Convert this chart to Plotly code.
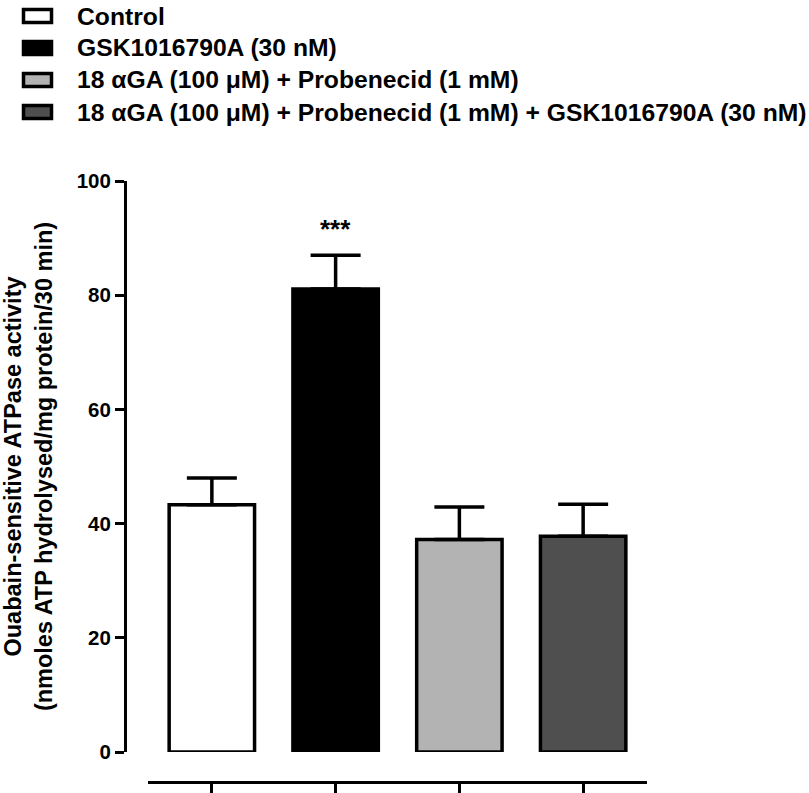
import plotly.graph_objects as go

categories = [
    "Control",
    "GSK1016790A (30 nM)",
    "18 αGA (100 μM) + Probenecid (1 mM)",
    "18 αGA (100 μM) + Probenecid (1 mM) + GSK1016790A (30 nM)",
]
means = [43.3, 81.1, 37.2, 37.8]
sem = [4.7, 5.9, 5.7, 5.6]
colors = ["#ffffff", "#000000", "#b3b3b3", "#4f4f4f"]
y_ticks = [0, 20, 40, 60, 80, 100]
significance = ["", "***", "", ""]

W, H = 809, 793
ML, MR, MT, MB = 125, 162, 181, 11
PW, PH = W - ML - MR, H - MT - MB

def px_x(p):
    return (p - ML) / PW

def px_y(p):
    return (H - MB - p) / PH

FONT = "Liberation Sans, Arial, Helvetica, sans-serif"

fig = go.Figure()
fig.add_trace(go.Bar(
    x=categories,
    y=means,
    width=0.69,
    marker=dict(color=colors, line=dict(color="black", width=3.5)),
    error_y=dict(type="data", array=sem, arrayminus=[0] * len(sem),
                 symmetric=False, color="black", thickness=3.5, width=25),
    showlegend=False,
))

annotations = []
for c, m, s, t in zip(categories, means, sem, significance):
    if t:
        annotations.append(dict(x=c, y=m + s, xref="x", yref="y", text=t,
                                showarrow=False, yanchor="bottom", yshift=9,
                                font=dict(size=26, color="black", family=FONT)))

# manual legend (swatches + labels)
row_centers = [16, 48, 80, 112]
shapes = []
for c, col, yc in zip(categories, colors, row_centers):
    shapes.append(dict(type="rect", xref="paper", yref="paper",
                       x0=px_x(23.5), x1=px_x(51.5), y0=px_y(yc - 6.5), y1=px_y(yc + 6.5),
                       fillcolor=col, line=dict(color="black", width=3.5)))
    annotations.append(dict(x=px_x(75), y=px_y(yc), xref="paper", yref="paper",
                            text=c, showarrow=False, xanchor="left", yanchor="middle",
                            font=dict(size=24.7, color="black", family=FONT, weight="bold")))

fig.update_layout(
    width=W, height=H,
    margin=dict(l=ML, r=MR, t=MT, b=MB, pad=0, autoexpand=False),
    paper_bgcolor="white", plot_bgcolor="white",
    font=dict(family=FONT, color="black", weight="bold"),
    showlegend=False,
    xaxis=dict(domain=[px_x(148), 1], anchor="free", position=0, automargin=False,
               range=[-0.516, 3.516], showticklabels=False,
               showline=True, linecolor="black", linewidth=3,
               ticks="outside", ticklen=10, tickwidth=3, tickcolor="black",
               showgrid=False, zeroline=False, fixedrange=True),
    yaxis=dict(domain=[px_y(752), 1], anchor="free", position=0, automargin=False,
               range=[0, 100], tickvals=y_ticks,
               tickfont=dict(size=20.5, family=FONT, weight="bold"),
               showline=True, linecolor="black", linewidth=3,
               ticks="outside", ticklen=9, tickwidth=3, tickcolor="black",
               showgrid=False, zeroline=False,
               title=dict(text="Ouabain-sensitive ATPase activity<br>(nmoles ATP hydrolysed/mg protein/30 min)",
                          font=dict(size=23.5, family=FONT, weight="bold"), standoff=28)),
    shapes=shapes,
    annotations=annotations,
)

fig.write_html("out.html", config={"displayModeBar": False},
               post_script="document.body.style.margin='0';")
